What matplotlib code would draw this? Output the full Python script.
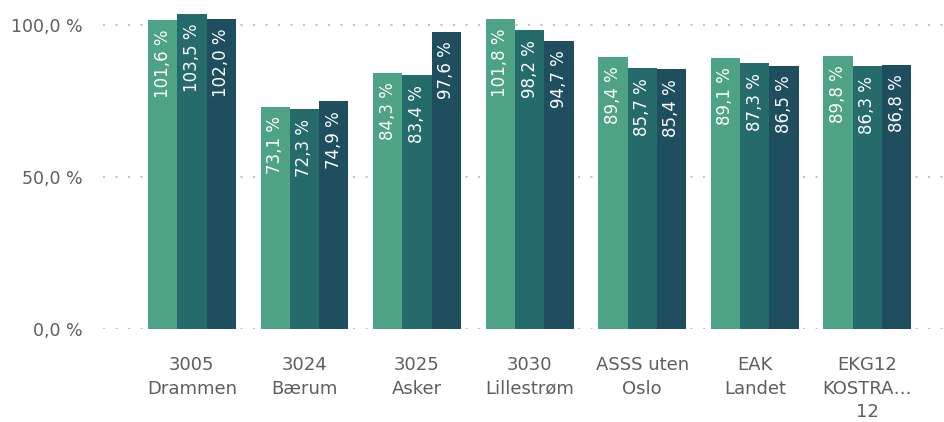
import matplotlib
matplotlib.use("Agg")
import matplotlib.pyplot as plt
import numpy as np

# Data ==================================================================
categories = ["3005\nDrammen", "3024\nBærum", "3025\nAsker", "3030\nLillestrøm",
              "ASSS uten\nOslo", "EAK\nLandet", "EKG12\nKOSTRA…\n12"]
serie1 = [101.6, 73.1, 84.3, 101.8, 89.4, 89.1, 89.8]
serie2 = [103.5, 72.3, 83.4, 98.2, 85.7, 87.3, 86.3]
serie3 = [102.0, 74.9, 97.6, 94.7, 85.4, 86.5, 86.8]
yticks = [0, 50, 100]
colors = ["#4DA383", "#256B6B", "#1F4E5F"]
#=======================================================================

plt.rcParams['font.family'] = ['DejaVu Sans']
DPI = 100
fig = plt.figure(figsize=(9.45, 4.22), dpi=DPI)
ax = fig.add_axes([103/945, (422-329.3)/422, 842/945, 329.3/422])

x = np.arange(len(categories))
w = 0.26
series = [serie1, serie2, serie3]
for i, vals in enumerate(series):
    xs = x + (i - 1) * w
    ax.bar(xs, vals, width=w, color=colors[i], zorder=2)
    for xi, v in zip(xs, vals):
        ax.annotate(f"{v:.1f} %".replace(".", ","), (xi, v), xytext=(0, -7),
                    textcoords="offset points", rotation=90, ha="center", va="top",
                    color="white", fontsize=12, zorder=3)

ax.set_xlim(-0.79, 6.69)
ax.set_ylim(0, 108.1)

# dotted grid lines
for t in yticks:
    ax.axhline(t, color="#C4C4C4", linewidth=1.5, linestyle=(0, (1, 5)), zorder=1)

ax.set_yticks(yticks)
ax.set_yticklabels([f"{t:.1f} %".replace(".", ",") for t in yticks])
ax.set_xticks(x)
ax.set_xticklabels(categories, linespacing=1.42)
ax.tick_params(axis="y", length=0, pad=15, labelsize=12.5, labelcolor="#605E5C")
ax.tick_params(axis="x", length=0, pad=19, labelsize=13, labelcolor="#605E5C")
for s in ax.spines.values():
    s.set_visible(False)

plt.savefig("out.png", dpi=DPI)
plt.close()
